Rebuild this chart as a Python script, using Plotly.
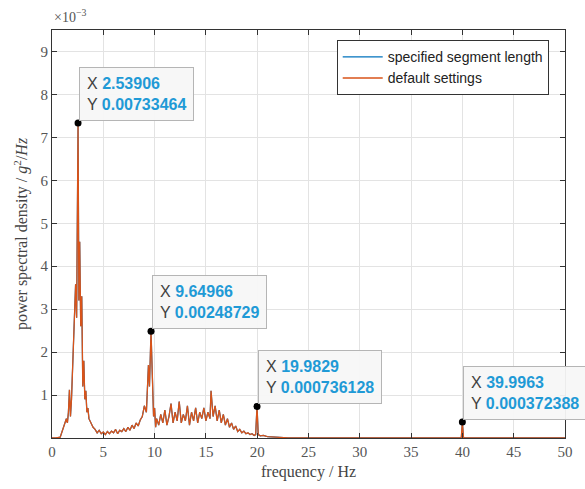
import plotly.graph_objects as go

# frequency (Hz) and PSD (x1e-3 g^2/Hz)
freq = [0.0, 0.4, 0.8, 1.0, 1.2, 1.4, 1.5, 1.6, 1.7, 1.8, 1.9, 2.0, 2.1, 2.2, 2.3, 2.4,
        2.53906, 2.62, 2.7, 2.8, 2.9, 3.0, 3.1, 3.2, 3.3, 3.4, 3.5, 3.6, 3.8, 4.0, 4.2,
        4.4, 4.6, 4.8, 5.0, 5.2, 5.4, 5.6, 5.8, 6.0, 6.2, 6.4, 6.6, 6.8, 7.0, 7.2, 7.4,
        7.6, 7.8, 8.0, 8.2, 8.4, 8.6, 8.8, 9.0, 9.2, 9.4, 9.5, 9.64966, 9.8, 9.9, 10.0,
        10.1, 10.2, 10.4, 10.6, 10.8, 11.0, 11.2, 11.4, 11.6, 11.8, 12.0, 12.2, 12.4,
        12.6, 12.8, 13.0, 13.2, 13.4, 13.6, 13.8, 14.0, 14.2, 14.4, 14.6, 14.8, 15.0,
        15.2, 15.4, 15.5, 15.7, 15.9, 16.1, 16.3, 16.5, 16.7, 16.9, 17.1, 17.3, 17.5,
        17.7, 17.9, 18.1, 18.3, 18.5, 18.7, 18.9, 19.1, 19.3, 19.5, 19.7, 19.85,
        19.9829, 20.1, 20.3, 20.6, 21.0, 21.5, 22.0, 23.0, 25.0, 30.0, 35.0, 39.8,
        39.9, 39.9963, 40.1, 40.2, 45.0, 50.0]
psd_milli = [0.0, 0.0, 0.02, 0.15, 0.3, 0.45, 0.35, 0.6, 1.12, 0.5, 0.9, 1.6, 2.4, 3.0,
             3.58, 2.8, 7.33464, 3.2, 4.57, 2.6, 3.3, 1.2, 1.8, 0.9, 1.1, 0.6, 0.7, 0.45,
             0.35, 0.25, 0.2, 0.12, 0.18, 0.1, 0.14, 0.08, 0.15, 0.1, 0.16, 0.12, 0.2,
             0.1, 0.18, 0.15, 0.22, 0.15, 0.25, 0.18, 0.3, 0.22, 0.35, 0.28, 0.42, 0.5,
             0.75, 0.6, 1.7, 1.2, 2.48729, 0.9, 0.5, 0.7, 0.25, 0.45, 0.3, 0.55, 0.35,
             0.65, 0.3, 0.5, 0.8, 0.35, 0.6, 0.4, 0.85, 0.35, 0.55, 0.4, 0.75, 0.3, 0.6,
             0.4, 0.7, 0.35, 0.6, 0.45, 0.7, 0.4, 0.6, 0.45, 1.1, 0.5, 0.75, 0.4, 0.65,
             0.35, 0.55, 0.3, 0.45, 0.25, 0.35, 0.2, 0.28, 0.15, 0.2, 0.12, 0.16, 0.1,
             0.12, 0.08, 0.1, 0.06, 0.08, 0.736128, 0.08, 0.05, 0.06, 0.03, 0.02, 0.01,
             0.005, 0.003, 0.002, 0.002, 0.002, 0.02, 0.372388, 0.02, 0.002, 0.001, 0.001]
psd = [v * 1e-3 for v in psd_milli]

# data tips
tip_x = [2.53906, 9.64966, 19.9829, 39.9963]
tip_y = [0.00733464, 0.00248729, 0.000736128, 0.000372388]
tip_xtxt = ["2.53906", "9.64966", "19.9829", "39.9963"]
tip_ytxt = ["0.00733464", "0.00248729", "0.000736128", "0.000372388"]

xticks = [0, 5, 10, 15, 20, 25, 30, 35, 40, 45, 50]
yticks = [1, 2, 3, 4, 5, 6, 7, 8, 9]

BLUE = "#0072BD"
ORANGE = "#D95319"
TIPBLUE = "#1f9ad6"

fig = go.Figure()
fig.add_trace(go.Scatter(x=freq, y=psd, mode="lines", name="specified segment length",
                         line=dict(color=BLUE, width=1.2)))
fig.add_trace(go.Scatter(x=freq, y=psd, mode="lines", name="default settings",
                         line=dict(color=ORANGE, width=1.3)))
fig.add_trace(go.Scatter(x=tip_x, y=tip_y, mode="markers", showlegend=False,
                         marker=dict(color="black", size=7)))

for xv, yv, xt, yt in zip(tip_x, tip_y, tip_xtxt, tip_ytxt):
    fig.add_annotation(
        x=xv, y=yv, xref="x", yref="y", showarrow=False,
        xanchor="left", yanchor="bottom", xshift=1, yshift=2, align="left",
        text=(f"X <b><span style='color:{TIPBLUE}'>{xt}</span></b><br>"
              f"Y <b><span style='color:{TIPBLUE}'>{yt}</span></b>"),
        font=dict(family="Liberation Sans, Arial", size=16, color="#404040"),
        bgcolor="rgba(247,247,247,0.95)", bordercolor="#b5b5b5", borderwidth=1,
        borderpad=7,
    )

fig.add_annotation(x=0, y=1.0, xref="paper", yref="paper", xanchor="left", yanchor="bottom",
                   yshift=3, showarrow=False, text="×10<sup>−3</sup>",
                   font=dict(family="Liberation Serif", size=14, color="#555"))

axis_common = dict(showline=True, linecolor="#333", linewidth=1, mirror="ticks",
                   ticks="inside", ticklen=5, tickcolor="#333", showgrid=True,
                   gridcolor="#e3e3e3", gridwidth=1, zeroline=False,
                   tickfont=dict(family="Liberation Serif", size=15, color="#555"))

fig.update_xaxes(range=[0, 50], tickvals=xticks, ticktext=[str(t) for t in xticks],
                 title=dict(text="frequency / Hz", standoff=6,
                            font=dict(family="Liberation Serif", size=16, color="#444")),
                 **axis_common)
fig.update_yaxes(range=[0, 0.0095], tickvals=[t * 1e-3 for t in yticks],
                 ticktext=[str(t) for t in yticks],
                 title=dict(text="power spectral density / <i>g</i><sup>2</sup>/<i>Hz</i>",
                            standoff=8,
                            font=dict(family="Liberation Serif", size=16, color="#444")),
                 **axis_common)

fig.update_layout(
    width=585, height=489,
    margin=dict(l=52, r=12, t=30, b=49),
    paper_bgcolor="white", plot_bgcolor="white",
    legend=dict(x=0.555, y=0.975, xanchor="left", yanchor="top",
                bgcolor="white", bordercolor="#333", borderwidth=1,
                font=dict(family="Liberation Sans, Arial", size=14, color="#222"),
                itemwidth=40, tracegroupgap=0),
    showlegend=True,
)

fig.write_html("out.html")
